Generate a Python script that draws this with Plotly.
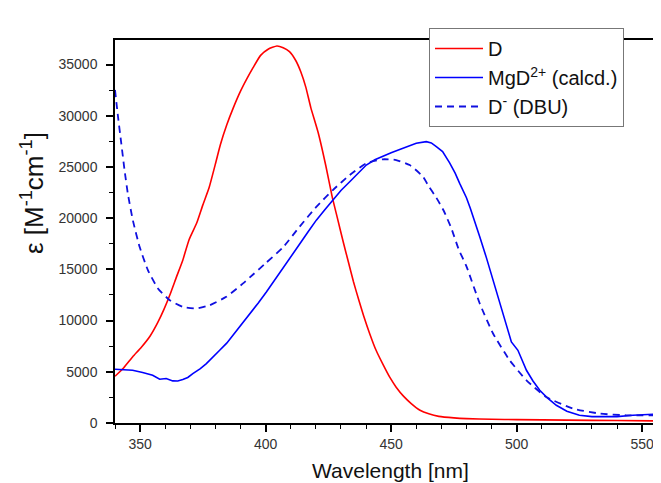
import plotly.graph_objects as go

# D (red, solid)
wl_d = [340, 343.5, 347, 350.5, 354, 357, 359.5, 362, 364.5, 367, 369.5, 372.5, 375, 377.5, 380,
        382, 384.5, 387, 390, 392.5, 395, 398, 401, 404.5, 407, 409.5, 412, 414, 416, 418, 421,
        424, 426.5, 428.5, 431, 433, 435, 437, 439, 441.5, 444, 447, 449.5, 452, 455, 458, 461.5,
        465, 469, 475, 480, 490, 500, 520, 540, 557.5]
eps_d = [4565, 5400, 6450, 7400, 8500, 9800, 11100, 12600, 14270, 15900, 17900, 19500, 21300, 23000, 25300,
         27200, 29100, 30700, 32400, 33600, 34700, 35900, 36500, 36820, 36650, 36270, 35400, 34300, 32800, 30800, 28300,
         25100, 22100, 20100, 17600, 15700, 13800, 12100, 10500, 8700, 7100, 5600, 4450, 3500, 2600, 1900, 1250,
         900, 650, 500, 430, 370, 330, 280, 240, 200]

# MgD2+ (calcd.) (blue, solid)
wl_mg = [340, 343, 347, 351, 355, 357.8, 360.4, 363, 365, 367, 369, 371, 374, 376.4, 379, 381.7, 384.5,
         387, 390, 393.6, 397, 400.3, 403.5, 406.9, 410, 413.5, 417, 420.2, 423.5, 426.8, 430, 433.5,
         437, 440.1, 443.5, 446.7, 450, 453.4, 456.5, 460, 464, 466, 468, 470.5, 473.3, 475.5, 477.3,
         480, 481.5, 483, 485.3, 488, 490.6, 493, 495.9, 497.9, 500.5, 502, 503.9, 506.5, 509.2, 512,
         515.8, 520, 525, 530, 535.7, 540, 546.3, 552, 557.5]
eps_mg = [5250, 5220, 5150, 4930, 4660, 4270, 4340, 4110, 4100, 4240, 4450, 4830, 5300, 5800, 6400, 7100, 7800,
          8570, 9600, 10690, 11700, 12800, 13900, 15100, 16200, 17450, 18700, 19810, 20800, 21770, 22700, 23560,
          24450, 25190, 25700, 26050, 26400, 26700, 27000, 27310, 27470, 27350, 26980, 26500, 25400, 24400, 23400,
          22000, 21000, 19800, 18180, 16100, 13950, 11900, 9380, 7920, 7100, 6200, 5150, 4100, 3200, 2500,
          1730, 1150, 750, 620, 590, 620, 750, 820, 900]

# D- (DBU) (blue, dashed)
wl_dbu = [340, 341.2, 342.5, 343.8, 345.1, 347.1, 349.8, 353.1, 357.1, 361.8, 367.1, 372.4, 377.7, 384.3,
          391, 395, 400, 406.9, 413.5, 420.2, 426.8, 433.5, 440.1, 446.7, 452, 457.4, 462.7, 465, 468, 471,
          474, 477, 480, 485.3, 490.6, 497.2, 503.9, 511.8, 522.4, 533.1, 543.7, 557.5]
eps_dbu = [32520, 29910, 27310, 24700, 22420, 19810, 17200, 14930, 13140, 11990, 11340, 11180, 11500, 12320,
           13630, 14500, 15600, 17150, 19160, 21110, 22750, 24210, 25360, 25750, 25680, 25190, 24050, 23100, 22000, 20700,
           19000, 16900, 15300, 11670, 8740, 6130, 4170, 2540, 1410, 920, 750, 750]

x_ticks = [350, 400, 450, 500, 550]
y_ticks = [0, 5000, 10000, 15000, 20000, 25000, 30000, 35000]
y_tick_labels = ["0", "5000", "10000", "15000", "20000", "25000", "30000", "35000"]

fig = go.Figure()
fig.add_trace(go.Scatter(x=wl_d, y=eps_d, mode="lines", name="D",
                         line=dict(color="#ff0000", width=1.6, shape="spline", smoothing=0.5)))
fig.add_trace(go.Scatter(x=wl_mg, y=eps_mg, mode="lines", name="MgD<sup>2+</sup> (calcd.)",
                         line=dict(color="#0000ff", width=1.6)))
fig.add_trace(go.Scatter(x=wl_dbu, y=eps_dbu, mode="lines", name="D<sup>-</sup> (DBU)",
                         line=dict(color="#1010e0", width=1.8, dash="7px,5px", shape="spline", smoothing=0.5)))

# page body has an 8px margin, so the figure is offset by (8, 8) on screen
fig.update_layout(
    width=661, height=483,
    margin=dict(l=107, r=8, t=32, b=68, autoexpand=False),
    paper_bgcolor="white", plot_bgcolor="white",
    font=dict(family="Liberation Sans, Arial, sans-serif", color="#222"),
    showlegend=True,
    legend=dict(x=(429 - 115) / 546, y=(423 - 28) / 383, xanchor="left", yanchor="top",
                bgcolor="white", bordercolor="#777", borderwidth=1, itemwidth=48,
                font=dict(size=20, color="#111"), tracegroupgap=0),
    xaxis=dict(range=[340, 557.5], tickvals=x_ticks, ticks="outside", ticklen=7, tickwidth=1.5,
               tickcolor="black", showline=True, linecolor="black", linewidth=1.5, mirror=True,
               showgrid=False, zeroline=False, tickfont=dict(size=14, color="#333"), automargin=False,
               minor=dict(dtick=10, tick0=340, ticks="outside", ticklen=4, tickwidth=1.2, tickcolor="black")),
    yaxis=dict(range=[0, 37400], tickvals=y_ticks, ticktext=y_tick_labels, ticks="outside", ticklen=7,
               tickwidth=1.5, tickcolor="black", showline=True, linecolor="black", linewidth=1.5, mirror=False,
               showgrid=False, zeroline=False, tickfont=dict(size=14, color="#333"), automargin=False,
               ticklabelstandoff=6,
               minor=dict(dtick=2500, tick0=0, ticks="outside", ticklen=4, tickwidth=1.2, tickcolor="black")),
    annotations=[
        dict(text="Wavelength [nm]", xref="paper", yref="paper", x=(390 - 115) / 546, y=(423 - 470) / 383,
             xanchor="center", yanchor="middle", showarrow=False, font=dict(size=21, color="#111")),
        dict(text="ε [M<sup>-1</sup>cm<sup>-1</sup>]", xref="paper", yref="paper",
             x=(32 - 115) / 546, y=(423 - 193) / 383, xanchor="center", yanchor="middle",
             textangle=-90, showarrow=False, font=dict(size=26, color="#111")),
    ],
)

fig.write_html("out.html")
